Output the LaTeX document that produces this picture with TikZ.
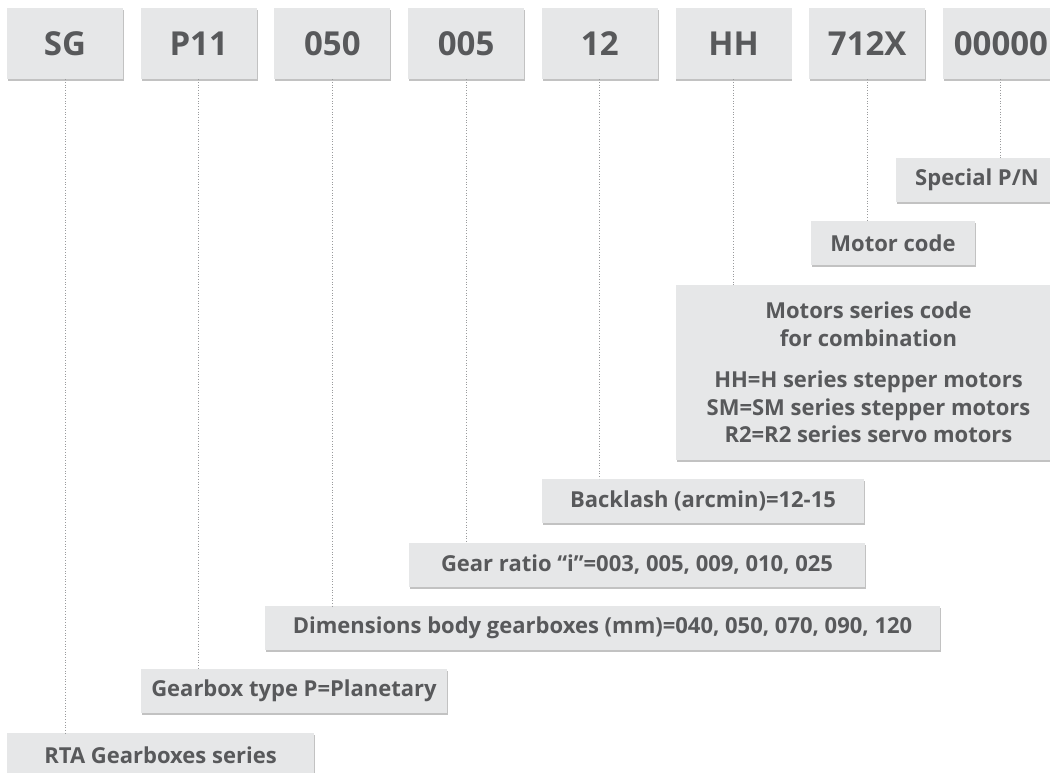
\documentclass[tikz,border=0pt]{standalone}
\usepackage{fontspec}
\setmainfont{Open Sans}
\usetikzlibrary{shadows}
\definecolor{boxgray}{HTML}{E6E7E8}
\definecolor{textgray}{HTML}{58595B}
\definecolor{linegray}{HTML}{9A9B9D}

\begin{document}
\begin{tikzpicture}[x=1pt, y=-1pt,
  code/.style={fill=boxgray, inner sep=0pt, minimum width=116pt, minimum height=71pt,
    text=textgray, font=\fontsize{33}{36}\selectfont\bfseries,
    drop shadow={shadow xshift=0.8pt, shadow yshift=-1.6pt, fill=black!40, opacity=0.6}},
  meaning/.style={fill=boxgray, inner sep=0pt, minimum height=44pt,
    text=textgray, font=\fontsize{22}{27.5}\selectfont\bfseries, align=center,
    drop shadow={shadow xshift=0.8pt, shadow yshift=-1.6pt, fill=black!40, opacity=0.6}},
  link/.style={linegray, line width=1pt, dash pattern=on 1pt off 1.7pt}]
\useasboundingbox (0,0) rectangle (1050,773);
\clip (0,0) rectangle (1050,773);

\node[code] (sg) at (65,43.5) {SG};
\node[code] (p11) at (198.7,43.5) {P11};
\node[code] (size) at (332.4,43.5) {050};
\node[code] (ratio) at (466.1,43.5) {005};
\node[code] (blash) at (599.8,43.5) {12};
\node[code] (mser) at (733.5,43.5) {HH};
\node[code] (mcode) at (867.2,43.5) {712X};
\node[code] (spec) at (1000.9,43.5) {00000};

\node[meaning, minimum width=307pt] (rtaTxt) at (160.5,755) {RTA Gearboxes series};
\node[meaning, minimum width=306pt] (p11Txt) at (294,691) {Gearbox type P=Planetary};
\node[meaning, minimum width=675pt] (sizeTxt) at (602.5,628) {Dimensions body gearboxes (mm)=040, 050, 070, 090, 120};
\node[meaning, minimum width=456pt] (ratioTxt) at (637,565) {Gear ratio “i”=003, 005, 009, 010, 025};
\node[meaning, minimum width=322pt] (blashTxt) at (703,501) {Backlash (arcmin)=12-15};
\node[meaning, minimum width=385pt, minimum height=175pt] (mserTxt) at (868.5,372.5)
  {Motors series code\\for combination\\[14pt]HH=H series stepper motors\\SM=SM series stepper motors\\R2=R2 series servo motors};
\node[meaning, minimum width=164pt] (mcodeTxt) at (893,243) {Motor code};
\node[meaning, minimum width=162pt] (specTxt) at (977,180) {Special P/N};

\draw[link] (sg.south) -- (sg.south |- rtaTxt.north);
\draw[link] (p11.south) -- (p11.south |- p11Txt.north);
\draw[link] (size.south) -- (size.south |- sizeTxt.north);
\draw[link] (ratio.south) -- (ratio.south |- ratioTxt.north);
\draw[link] (blash.south) -- (blash.south |- blashTxt.north);
\draw[link] (mser.south) -- (mser.south |- mserTxt.north);
\draw[link] (mcode.south) -- (mcode.south |- mcodeTxt.north);
\draw[link] (spec.south) -- (spec.south |- specTxt.north);

\end{tikzpicture}
\end{document}
